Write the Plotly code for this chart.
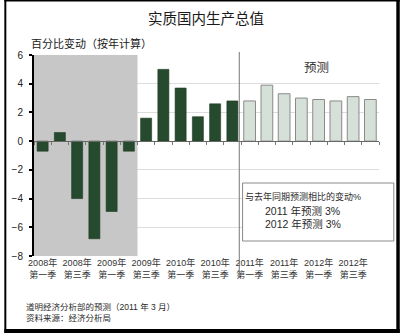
import plotly.graph_objects as go

# ---------------- data ----------------
quarters = [
    "2008年<br>第一季", "2008年<br>第二季", "2008年<br>第三季", "2008年<br>第四季",
    "2009年<br>第一季", "2009年<br>第二季", "2009年<br>第三季", "2009年<br>第四季",
    "2010年<br>第一季", "2010年<br>第二季", "2010年<br>第三季", "2010年<br>第四季",
    "2011年<br>第一季", "2011年<br>第二季", "2011年<br>第三季", "2011年<br>第四季",
    "2012年<br>第一季", "2012年<br>第二季", "2012年<br>第三季", "2012年<br>第四季",
]
actual = [-0.7, 0.6, -4.0, -6.8, -4.9, -0.7, 1.6, 5.0, 3.7, 1.7, 2.6, 2.8]
forecast = [2.8, 3.9, 3.3, 3.0, 2.9, 2.8, 3.1, 2.9]
y_ticks = [-8, -6, -4, -2, 0, 2, 4, 6]

title = "实质国内生产总值"
y_title = "百分比变动（按年计算）"
forecast_label = "预测"
box_lines = ["与去年同期预测相比的变动%", "2011 年预测 3%", "2012 年预测 3%"]
footer_lines = ["道明经济分析部的预测（2011 年 3 月）", "资料来源：经济分析局"]

# ---------------- layout geometry ----------------
W, H = 400, 333
L, R, T, B = 30, 21, 55, 77
PW, PH = W - L - R, H - T - B


def px(x):
    return (x - L) / PW


def py(y):
    return (H - B - y) / PH


FONT = "Liberation Sans, Arial, Noto Sans CJK SC, sans-serif"

idx_actual = list(range(len(actual)))
idx_fc = list(range(len(actual), len(actual) + len(forecast)))
n = len(quarters)

fig = go.Figure()
fig.add_trace(go.Bar(
    x=idx_actual, y=actual, width=0.64,
    marker=dict(color="#264a2e", line=dict(color="#1e3b24", width=0.6)),
    showlegend=False, hoverinfo="skip",
))
fig.add_trace(go.Bar(
    x=idx_fc, y=forecast, width=0.68,
    marker=dict(color="#d5e0d8", line=dict(color="#8a8a8a", width=1)),
    showlegend=False, hoverinfo="skip",
))
# helper trace so the zero-line axis is drawn
fig.add_trace(go.Scatter(
    x=[0], y=[0], xaxis="x2", mode="markers",
    marker=dict(opacity=0), showlegend=False, hoverinfo="skip",
))

shapes = []
# recession shading
shapes.append(dict(type="rect", xref="x", yref="y", x0=-0.5, x1=5.5, y0=-8, y1=6,
                   fillcolor="#c7c7c7", line=dict(width=0), layer="between"))
# forecast divider
shapes.append(dict(type="line", xref="x", yref="paper", x0=11.4, x1=11.4,
                   y0=py(278), y1=py(52), line=dict(color="#777777", width=1)))
# note box
shapes.append(dict(type="rect", xref="paper", yref="paper",
                   x0=px(241), x1=px(394), y0=py(241), y1=py(183),
                   fillcolor="white", line=dict(color="#8a8a8a", width=1)))
# outer frame
for (x0, x1, y0, y1) in [(0, 2, 0, H), (0, W, 0, 1.5), (396.5, W, 0, H), (0, W, 329, H)]:
    shapes.append(dict(type="rect", xref="paper", yref="paper",
                       x0=px(x0), x1=px(x1), y0=py(y1), y1=py(y0),
                       fillcolor="black", line=dict(width=0)))

annotations = [
    dict(text=title, x=px(204), y=py(19.5), font=dict(size=14.5, color="#1a1a1a")),
    dict(text=y_title, x=px(25), y=py(43.5), xanchor="left", font=dict(size=11, color="#1a1a1a")),
    dict(text=forecast_label, x=px(316), y=py(67.5), font=dict(size=12.5, color="#333333")),
    dict(text=box_lines[0], x=px(302), y=py(196), font=dict(size=9, color="#2a2a2a")),
    dict(text=box_lines[1], x=px(302), y=py(211), font=dict(size=10.5, color="#2a2a2a")),
    dict(text=box_lines[2], x=px(302), y=py(223.5), font=dict(size=10.5, color="#2a2a2a")),
    dict(text=footer_lines[0], x=px(20), y=py(306.7), xanchor="left", font=dict(size=8.5, color="#2a2a2a")),
    dict(text=footer_lines[1], x=px(20), y=py(318.3), xanchor="left", font=dict(size=8.5, color="#2a2a2a")),
]
for a in annotations:
    a.update(xref="paper", yref="paper", showarrow=False)
    a.setdefault("xanchor", "center")
    a["yanchor"] = "middle"

fig.update_layout(
    width=W, height=H,
    margin=dict(l=L, r=R, t=T, b=B, pad=0),
    paper_bgcolor="white", plot_bgcolor="white",
    font=dict(family=FONT, color="#333333"),
    bargap=0.3,
    xaxis=dict(
        range=[-0.5, n - 0.5], tickvals=list(range(0, n, 2)),
        ticktext=[quarters[i] for i in range(0, n, 2)],
        showgrid=False, zeroline=False, showline=False, ticks="",
        tickfont=dict(size=9, color="#333333"),
    ),
    xaxis2=dict(
        overlaying="x", anchor="free", position=8 / 14,
        range=[-0.5, n - 0.5], tickvals=[i + 0.5 for i in range(-1, n)],
        ticks="outside", ticklen=3, tickwidth=1, tickcolor="#777777",
        showticklabels=False, showline=True, linecolor="#666666", linewidth=1,
        showgrid=False, zeroline=False,
    ),
    yaxis=dict(
        range=[-8, 6], tickvals=y_ticks, showgrid=True, gridcolor="#dddddd", gridwidth=1,
        zeroline=False, showline=True, linecolor="black", linewidth=2,
        ticks="outside", ticklen=3, tickwidth=2, tickcolor="black",
        tickfont=dict(size=10, color="#222222"), ticklabelstandoff=4,
    ),
    shapes=shapes,
    annotations=annotations,
)

fig.write_html("out.html")
